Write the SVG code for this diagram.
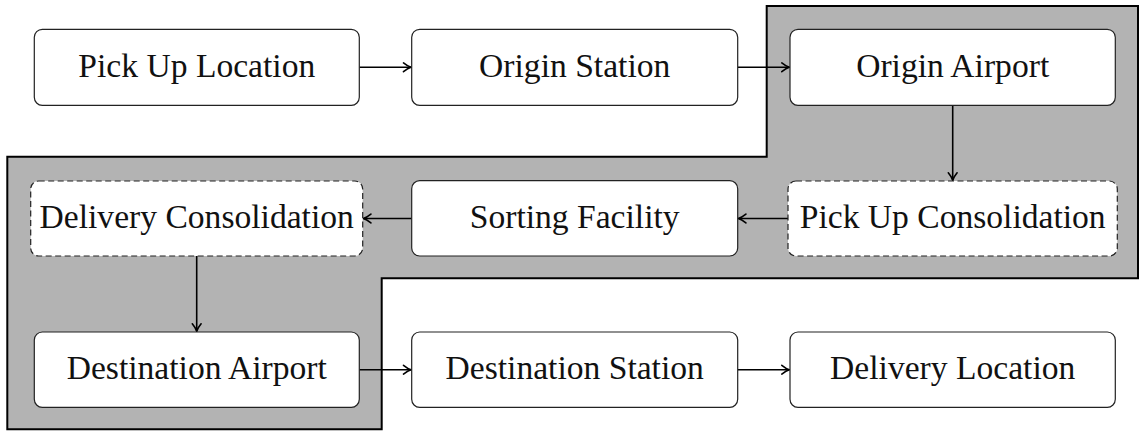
<svg xmlns="http://www.w3.org/2000/svg" width="1139" height="431" viewBox="0 0 1139 431">
<style>
.node rect{fill:#fff;stroke:#222;stroke-width:1.2}
.node.dashed rect{stroke-dasharray:6 3.5}
.node text{font-family:"Liberation Serif","DejaVu Serif",serif;font-size:33.6px;fill:#111;text-anchor:middle}
.conn line{stroke:#000;stroke-width:1.6;fill:none}
</style>
<defs>
<marker id="arr" markerUnits="userSpaceOnUse" markerWidth="12" markerHeight="12" viewBox="-9 -6 10 12" refX="0" refY="0" orient="auto">
<path d="M-7.5,-4.4 Q-3,-0.8 0,0 Q-3,0.8 -7.5,4.4" fill="none" stroke="#000" stroke-width="1.6" stroke-linecap="round"/>
</marker>
</defs>
<rect width="1139" height="431" fill="#fff"/>
<path id="region" d="M766.7,6 H1138 V278.3 H381.7 V429.3 H7.3 V156.7 H766.7 Z" fill="#b3b3b3" stroke="#000" stroke-width="2"/>
<g class="conn">
<line x1="359.3" y1="67.3" x2="411" y2="67.3" marker-end="url(#arr)"/>
<line x1="737.7" y1="67.3" x2="789.3" y2="67.3" marker-end="url(#arr)"/>
<line x1="952.7" y1="105.3" x2="952.7" y2="180.3" marker-end="url(#arr)"/>
<line x1="788" y1="218.5" x2="738.4" y2="218.5" marker-end="url(#arr)"/>
<line x1="411.7" y1="218.5" x2="363.4" y2="218.5" marker-end="url(#arr)"/>
<line x1="196.7" y1="256" x2="196.7" y2="331.3" marker-end="url(#arr)"/>
<line x1="359.3" y1="369.7" x2="411" y2="369.7" marker-end="url(#arr)"/>
<line x1="737.7" y1="369.7" x2="789.3" y2="369.7" marker-end="url(#arr)"/>
</g>
<g id="pickup-location" class="node"><rect x="34.3" y="29.3" width="325" height="76" rx="8"/><text x="196.8" y="76.8">Pick Up Location</text></g>
<g id="origin-station" class="node"><rect x="411.7" y="29.3" width="326" height="76" rx="8"/><text x="574.7" y="76.8">Origin Station</text></g>
<g id="origin-airport" class="node"><rect x="790" y="29.3" width="325.3" height="76" rx="8"/><text x="952.7" y="76.8">Origin Airport</text></g>
<g id="delivery-consolidation" class="node dashed"><rect x="30.7" y="181" width="332" height="75" rx="8"/><text x="196.7" y="227.5">Delivery Consolidation</text></g>
<g id="sorting-facility" class="node"><rect x="411.7" y="180.7" width="326" height="75.3" rx="8"/><text x="574.7" y="227.5">Sorting Facility</text></g>
<g id="pickup-consolidation" class="node dashed"><rect x="788" y="181" width="329.3" height="75" rx="8"/><text x="952.7" y="227.5">Pick Up Consolidation</text></g>
<g id="destination-airport" class="node"><rect x="34.3" y="332" width="325" height="75.3" rx="8"/><text x="196.8" y="379.4">Destination Airport</text></g>
<g id="destination-station" class="node"><rect x="411.7" y="332" width="326" height="75.3" rx="8"/><text x="574.7" y="379.4">Destination Station</text></g>
<g id="delivery-location" class="node"><rect x="790" y="332" width="325.3" height="75.3" rx="8"/><text x="952.7" y="379.4">Delivery Location</text></g>
</svg>
